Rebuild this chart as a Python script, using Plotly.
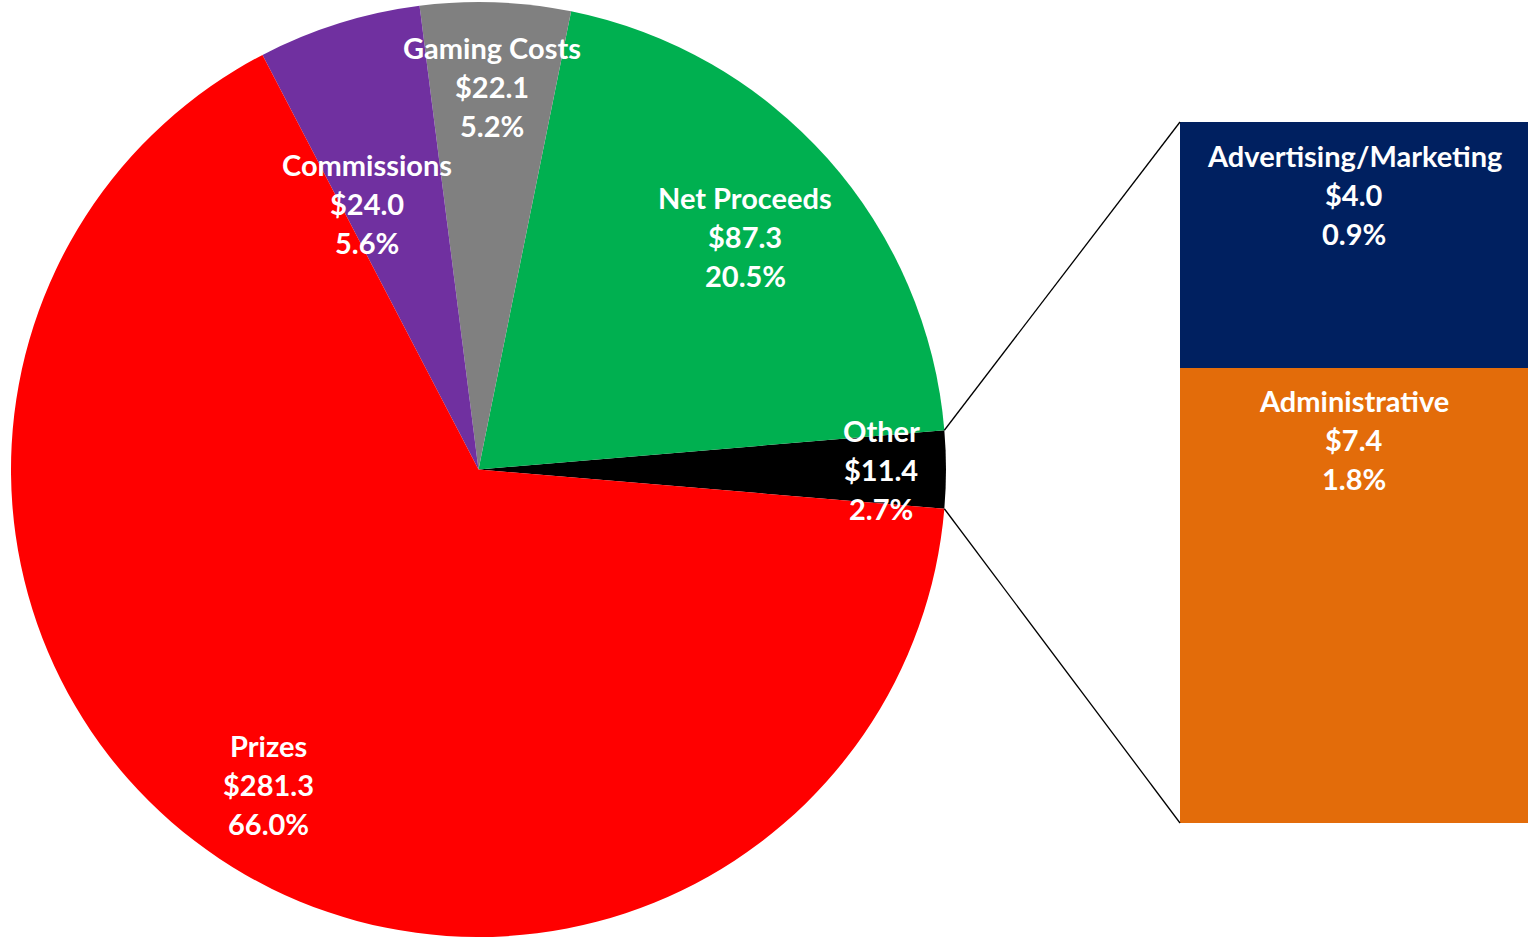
import math
import plotly.graph_objects as go

# ---- data ----
pie_labels = ["Other", "Net Proceeds", "Gaming Costs", "Commissions", "Prizes"]
pie_values = [11.4, 87.3, 22.1, 24.0, 281.3]
pie_colors = ["#000000", "#00B050", "#808080", "#7030A0", "#FF0000"]

bar_labels = ["Administrative", "Advertising/Marketing"]
bar_values = [7.4, 4.0]
bar_pct_labels = ["1.8%", "0.9%"]
bar_colors = ["#E36C0A", "#002060"]

# ---- layout / style ----
W, H = 1528, 939
PIE_X0, PIE_X1 = 11, 946
BAR_X0, BAR_TOP, BAR_BOT = 1180, 122, 823
label_radius = [0.861, 0.757, 0.819, 0.618, 0.81]
label_angle_offset = [0.0, -0.6, 0.0, 5.4, 0.0]
FONT = dict(family="Lato, 'Open Sans', sans-serif", size=29, color="white", weight="bold")
LINE = 39

total = sum(pie_values)
other_frac = pie_values[0] / total
other_deg = other_frac * 360
# plotly: with counterclockwise direction the first slice ends at (90 - rotation) deg
rotation = 90 - other_deg / 2

fig = go.Figure()
fig.add_trace(go.Pie(
    labels=pie_labels, values=pie_values, sort=False,
    direction="counterclockwise", rotation=rotation,
    marker=dict(colors=pie_colors, line=dict(width=0)),
    textinfo="none", hoverinfo="label+value+percent", showlegend=False,
    domain=dict(x=[PIE_X0 / W, PIE_X1 / W], y=[0, 1]),
))

for lab, val, col in zip(bar_labels, bar_values, bar_colors):
    fig.add_trace(go.Bar(
        x=["Other"], y=[val], name=lab, marker=dict(color=col, line=dict(width=0)),
        showlegend=False, xaxis="x", yaxis="y",
    ))

# pie geometry in pixels
R = min(PIE_X1 - PIE_X0, H) / 2
cx = (PIE_X0 + PIE_X1) / 2
cy = H / 2

def to_paper(px, py):
    return px / W, 1 - py / H

annotations = []
start = -other_deg / 2
cum = start
for lab, val, rf, off in zip(pie_labels, pie_values, label_radius, label_angle_offset):
    ang = (val / total) * 360
    mid = math.radians(cum + ang / 2 + off)
    cum += ang
    px = cx + R * rf * math.cos(mid)
    py = cy - R * rf * math.sin(mid)
    xp, yp = to_paper(px, py)
    lines = [lab, f"${val:.1f}", f"{val / total * 100:.1f}%"]
    for i, t in enumerate(lines):
        annotations.append(dict(
            x=xp, y=yp, xref="paper", yref="paper", text=t, showarrow=False,
            xanchor="center", yanchor="middle", yshift=(1 - i) * LINE, font=FONT,
        ))

# bar labels
cum_bar = 0
for lab, val, pct in zip(bar_labels, bar_values, bar_pct_labels):
    cum_bar += val
    lines = [lab, f"${val:.1f}", pct]
    for i, t in enumerate(lines):
        annotations.append(dict(
            x="Other", y=cum_bar, xref="x", yref="y", text=t, showarrow=False,
            xanchor="center", yanchor="middle", yshift=-33 - i * LINE, font=FONT,
        ))

# connector lines from the Other slice edges to the bar corners
a0 = math.radians(start)
a1 = math.radians(start + other_deg)
p_top = to_paper(cx + R * math.cos(a1), cy - R * math.sin(a1))
p_bot = to_paper(cx + R * math.cos(a0), cy - R * math.sin(a0))
b_top = to_paper(BAR_X0, BAR_TOP)
b_bot = to_paper(BAR_X0, BAR_BOT)
shapes = [
    dict(type="line", xref="paper", yref="paper", x0=p_top[0], y0=p_top[1],
         x1=b_top[0], y1=b_top[1], line=dict(color="black", width=1.3)),
    dict(type="line", xref="paper", yref="paper", x0=p_bot[0], y0=p_bot[1],
         x1=b_bot[0], y1=b_bot[1], line=dict(color="black", width=1.3)),
]

fig.update_layout(
    width=W, height=H, margin=dict(l=0, r=0, t=0, b=0),
    paper_bgcolor="white", plot_bgcolor="white",
    barmode="stack", bargap=0,
    xaxis=dict(domain=[BAR_X0 / W, 1], visible=False, fixedrange=True),
    yaxis=dict(domain=[1 - BAR_BOT / H, 1 - BAR_TOP / H], range=[0, sum(bar_values)],
               visible=False, fixedrange=True),
    annotations=annotations, shapes=shapes,
)

fig.write_html(
    "out.html",
    config={"displayModeBar": False},
    post_script="document.body.style.margin='0';document.body.style.overflow='hidden';",
)
